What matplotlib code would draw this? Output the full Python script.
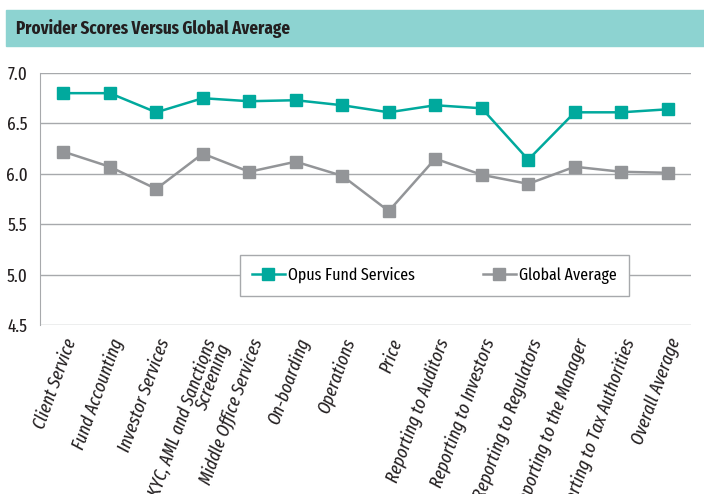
import matplotlib.pyplot as plt
from matplotlib.patches import Rectangle

categories = ['Client Service', 'Fund Accounting', 'Investor Services',
              'KYC, AML and Sanctions\nScreening', 'Middle Office Services',
              'On-boarding', 'Operations', 'Price', 'Reporting to Auditors',
              'Reporting to Investors', 'Reporting to Regulators',
              'Reporting to the Manager', 'Reporting to Tax Authorities',
              'Overall Average']
opus = [6.80, 6.80, 6.61, 6.75, 6.72, 6.73, 6.68, 6.61, 6.68, 6.65, 6.14, 6.61, 6.61, 6.64]
global_avg = [6.22, 6.07, 5.85, 6.20, 6.02, 6.12, 5.98, 5.63, 6.15, 5.99, 5.90, 6.07, 6.02, 6.01]

teal = '#00a99d'
grey = '#939598'
plt.rcParams['font.family'] = ['Fira Sans Extra Condensed', 'DejaVu Sans']

fig = plt.figure(figsize=(7.04, 4.94), dpi=100)

# title banner
fig.patches.append(Rectangle((6 / 704, 1 - 46 / 494), 698 / 704, 36 / 494,
                             transform=fig.transFigure, color='#8dd3d1', zorder=0))
fig.text(16 / 704, 1 - 29 / 494, 'Provider Scores Versus Global Average',
         fontsize=13.2, fontweight='bold', color='#231f20', va='center')

ax = fig.add_axes([40 / 704, 1 - 325 / 494, 651 / 704, 252 / 494])
x = range(len(categories))
ax.plot(x, opus, color=teal, marker='s', markersize=8, linewidth=1.8, label='Opus Fund Services')
ax.plot(x, global_avg, color=grey, marker='s', markersize=8, linewidth=1.8, label='Global Average')

ax.set_xlim(-0.5, len(categories) - 0.5)
ax.set_ylim(4.5, 7.0)
ax.set_yticks([4.5, 5.0, 5.5, 6.0, 6.5, 7.0])
ax.set_yticklabels(['4.5', '5.0', '5.5', '6.0', '6.5', '7.0'], fontsize=13.5, color='#231f20')
ax.grid(axis='y', color='#a7a9ac', linewidth=1)
ax.set_axisbelow(True)
for s in ['top', 'right', 'bottom']:
    ax.spines[s].set_visible(False)
ax.spines['left'].set_color('#a7a9ac')
ax.tick_params(axis='both', length=0)
ax.tick_params(axis='y', pad=9)

ax.set_xticks(list(x))
ax.set_xticklabels(categories, rotation=70, ha='right', rotation_mode='anchor',
                   fontsize=13.5, style='italic', color='#231f20', linespacing=0.8)
ax.tick_params(axis='x', pad=8)

leg = ax.legend(loc='center', bbox_to_anchor=(0.606, 0.196), ncol=2, fontsize=12.5,
                frameon=True, fancybox=False, borderpad=0.7, columnspacing=3.9,
                handlelength=1.9, handletextpad=0.2, borderaxespad=0)
leg.get_frame().set_edgecolor('#a7a9ac')
leg.get_frame().set_linewidth(1)
leg.get_frame().set_alpha(1)

fig.savefig('out.png', dpi=100)
